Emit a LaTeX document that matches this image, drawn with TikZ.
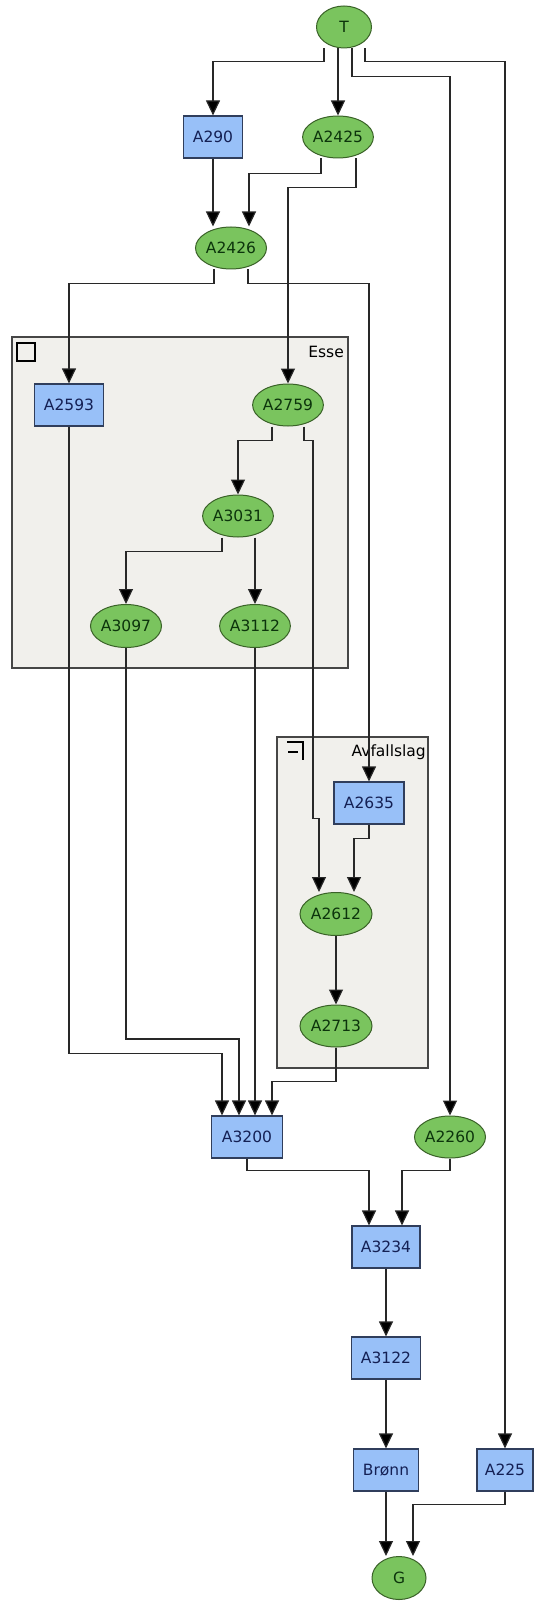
\documentclass[tikz,border=0pt]{standalone}
\usepackage{fontspec}
\setmainfont{DejaVu Sans}
\usepackage{tikz}
\usetikzlibrary{arrows.meta,shapes.geometric}
\definecolor{grnfill}{RGB}{122,196,94}
\definecolor{grnline}{RGB}{58,98,40}
\definecolor{grntext}{RGB}{12,52,12}
\definecolor{blufill}{RGB}{152,192,248}
\definecolor{bluline}{RGB}{48,62,92}
\definecolor{blutext}{RGB}{20,32,84}
\definecolor{grpfill}{RGB}{241,240,236}
\definecolor{grpline}{RGB}{70,70,70}
\definecolor{edgecol}{RGB}{40,40,40}
\tikzset{
  grn/.style={ellipse, draw=grnline, fill=grnfill, text=grntext, line width=1pt,
    inner sep=0pt, minimum width=70pt, minimum height=42pt},
  blu/.style={rectangle, draw=bluline, fill=blufill, text=blutext, line width=1.2pt,
    inner sep=0pt, minimum width=69pt, minimum height=42pt},
  flow/.style={draw=edgecol, line width=1.2pt,
    -{Triangle[width=14pt,length=15pt,fill=black]}},
  grp/.style={draw=grpline, fill=grpfill, line width=1.3pt},
  grplabel/.style={anchor=east, inner sep=0pt, text=black}
}
\begin{document}
\begin{tikzpicture}[x=1pt, y=-1pt, font=\fontsize{15.5}{18}\selectfont]
\fill[white] (0,0) rectangle (534,1602);
\useasboundingbox (0,0) rectangle (534,1602);

% groups
\draw[grp] (12,337) rectangle (348,668);
\draw[draw=black, line width=2pt] (17,343) rectangle (35,361);
\node[grplabel] (esselbl) at (344,352) {Esse};
\draw[grp] (277,737) rectangle (428,1068);
\draw[black, line width=1.6pt] (287,742) -- (303,742) -- (303,760);
\draw[black, line width=1.6pt] (288,752) -- (298,752);
\node[grplabel] (avflbl) at (426,752) {Avfallslag};

% nodes
\node[grn, minimum width=55pt] (T) at (344,27) {T};
\node[blu, minimum width=59pt] (a290) at (213,137) {A290};
\node[grn] (a2425) at (338,137) {A2425};
\node[grn, minimum width=71pt] (a2426) at (231,248) {A2426};
\node[blu] (a2593) at (69,405) {A2593};
\node[grn, minimum width=69pt] (a2759) at (288,405) {A2759};
\node[grn] (a3031) at (238,516) {A3031};
\node[grn, minimum width=71pt, minimum height=43pt] (a3097) at (126,626) {A3097};
\node[grn, minimum width=69pt, minimum height=43pt] (a3112) at (255,626) {A3112};
\node[blu, minimum width=70pt] (a2635) at (369,803) {A2635};
\node[grn, minimum width=72pt, minimum height=43pt] (a2612) at (336,914) {A2612};
\node[grn, minimum width=72pt] (a2713) at (336,1026) {A2713};
\node[blu, minimum width=71pt] (a3200) at (247,1137) {A3200};
\node[grn, minimum width=71pt] (a2260) at (450,1137) {A2260};
\node[blu, minimum width=68pt] (a3234) at (386,1247) {A3234};
\node[blu] (a3122) at (386,1358) {A3122};
\node[blu, minimum width=65pt] (bronn) at (386,1470) {Brønn};
\node[blu, minimum width=56pt] (a225) at (505,1470) {A225};
\node[grn, minimum width=54pt, minimum height=43pt] (G) at (399,1578) {G};

% connectors
\draw[flow] ([xshift=-20pt]T.south) -- ++(0,13) -| (a290.north);
\draw[flow] (T.south -| a2425.north) -- (a2425.north);
\draw[flow] ([xshift=8pt]T.south) -- ++(0,28) -| (a2260.north);
\draw[flow] ([xshift=21pt]T.south) -- ++(0,13) -| (a225.north);
\draw[flow] (a290.south) -- (a290.south |- a2426.north);
\draw[flow] ([xshift=-17pt]a2425.south) -- ++(0,15) -| ([xshift=18pt]a2426.north);
\draw[flow] ([xshift=18pt]a2425.south) -- ++(0,29) -| (a2759.north);
\draw[flow] ([xshift=-17pt]a2426.south) -- ++(0,14) -| (a2593.north);
\draw[flow] ([xshift=17pt]a2426.south) -- ++(0,14) -| (a2635.north);
\draw[flow] ([xshift=-16pt]a2759.south) -- ++(0,14) -| (a3031.north);
\draw[flow] ([xshift=16pt]a2759.south) -- ++(0,14) -- ++(9,0) -- ++(0,378) -| ([xshift=-17pt]a2612.north);
\draw[flow] ([xshift=-16pt]a3031.south) -- ++(0,14) -| (a3097.north);
\draw[flow] ([xshift=17pt]a3031.south) -- (a3112.north);
\draw[flow] (a2635.south) -- ++(0,14) -| ([xshift=18pt]a2612.north);
\draw[flow] (a2612.south) -- (a2713.north);
\draw[flow] (a2593.south) -- ++(0,627) -| ([xshift=-25pt]a3200.north);
\draw[flow] (a3097.south) -- ++(0,391) -| ([xshift=-8pt]a3200.north);
\draw[flow] (a3112.south) -- ([xshift=8pt]a3200.north);
\draw[flow] (a2713.south) -- ++(0,34) -| ([xshift=25pt]a3200.north);
\draw[flow] (a3200.south) -- ++(0,12) -| ([xshift=-17pt]a3234.north);
\draw[flow] (a2260.south) -- ++(0,12) -| ([xshift=16pt]a3234.north);
\draw[flow] (a3234.south) -- (a3122.north);
\draw[flow] (a3122.south) -- (bronn.north);
\draw[flow] (bronn.south) -- (bronn.south |- G.north);
\draw[flow] (a225.south) -- ++(0,13) -| ([xshift=14pt]G.north);
\end{tikzpicture}
\end{document}
